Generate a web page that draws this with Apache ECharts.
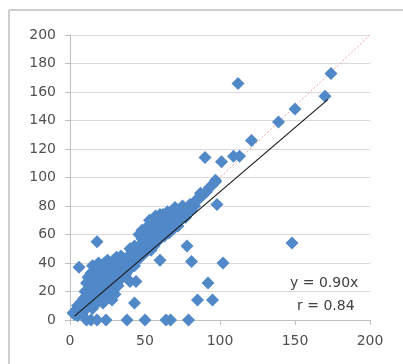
<!DOCTYPE html>
<html>
<head>
<meta charset="utf-8">
<script src="https://cdn.jsdelivr.net/npm/echarts@6/dist/echarts.min.js"></script>
<style>
  html, body { margin: 0; padding: 0; background: #fff; }
  #chart { width: 403px; height: 364px; }
</style>
</head>
<body>
<div id="chart"></div>
<script>
  // 散点数据 (x, y)
  var clusterPoints = [
    [2,5],[3,4],[4,7],[5,3],[5,10],[6,6],[7,12],[8,4],[8,9],[9,15],[10,7],[10,12],[10,20],
    [11,17],[11,26],[12,10],[12,30],[13,14],[13,22],[14,33],[14,18],[15,8],[15,27],[15,38],
    [16,13],[16,24],[17,32],[17,19],[18,36],[18,12],[18,28],[19,22],[19,40],[20,16],[20,33],
    [21,26],[21,38],[22,12],[22,20],[22,30],[23,35],[23,40],[24,15],[24,25],[25,31],[25,42],
    [26,19],[26,36],[27,28],[27,39],[28,14],[28,23],[28,33],[29,42],[30,18],[30,27],[30,37],
    [31,30],[31,44],[32,24],[32,35],[33,40],[33,28],[34,33],[34,45],[35,30],[35,38],[36,35],
    [36,42],[37,32],[38,38],[38,44],[39,35],[40,40],[40,50],[41,37],[41,46],[42,42],[43,38],
    [43,52],[44,45],[45,42],[45,50],[46,46],[46,60],[47,44],[47,53],[48,48],[48,57],[48,63],
    [49,52],[50,47],[50,55],[50,62],[51,50],[52,58],[52,66],[53,53],[53,70],[54,49],[54,62],
    [55,57],[55,70],[56,52],[56,65],[57,60],[57,73],[58,55],[58,68],[59,63],[60,57],[60,70],
    [60,74],[61,61],[62,66],[62,74],[63,59],[64,63],[64,70],[65,67],[65,76],[66,61],[66,73],
    [67,65],[68,70],[69,64],[70,68],[70,76],[70,79],[71,72],[72,66],[73,70],[74,76],[75,72],
    [75,80],[76,78],[77,72],[78,76],[79,79],[80,81],[81,77],[83,80],[84,84],[85,84],[87,89],
    [89,88],[91,90],[93,93],[95,95],[97,97]
  ];
  var outlierPoints = [
    [6,37],[18,55],[11,0],[14,0],[18,0],[24,0],[38,0],[50,0],[64,0],[67,0],[79,0],[43,12],
    [40,27],[44,27],[60,42],[78,52],[81,41],[85,14],[92,26],[95,14],[102,40],[148,54],[98,81],
    [90,114],[101,111],[109,115],[113,115],[97,98],[121,126],[112,166],[139,139],[150,148],
    [170,157],[174,173]
  ];
  // 趋势线 y = 0.90x
  var slope = 0.90;
  var trendX = [3, 172];
  var identityX = [0, 200];
  var xTicks = [0, 50, 100, 150, 200];
  var yTicks = [0, 20, 40, 60, 80, 100, 120, 140, 160, 180, 200];
  var eqText = 'y = 0.90x';
  var rText = 'r = 0.84';

  var myChart = echarts.init(document.getElementById('chart'));
  var labelFont = { color: '#505050', fontSize: 14, fontFamily: 'DejaVu Sans' };

  myChart.setOption({
    backgroundColor: '#fff',
    animation: false,
    grid: { left: 70, right: 33, top: 35, bottom: 44 },
    xAxis: {
      type: 'value',
      min: xTicks[0], max: xTicks[xTicks.length - 1], interval: 50,
      axisLine: { show: true, onZero: false, lineStyle: { color: '#bfbfbf' } },
      axisTick: { show: true, length: 5, lineStyle: { color: '#bfbfbf' } },
      axisLabel: Object.assign({ margin: 14 }, labelFont),
      splitLine: { show: false }
    },
    yAxis: {
      type: 'value',
      min: yTicks[0], max: yTicks[yTicks.length - 1], interval: 20,
      axisLine: { show: true, onZero: false, lineStyle: { color: '#bfbfbf' } },
      axisTick: { show: true, length: 5, lineStyle: { color: '#bfbfbf' } },
      axisLabel: Object.assign({ margin: 14 }, labelFont),
      splitLine: { show: true, lineStyle: { color: '#d9d9d9' } }
    },
    graphic: [
      { type: 'line', shape: { x1: 9, y1: 10, x2: 403, y2: 10 }, style: { stroke: '#bcbcbc', lineWidth: 1.5 } },
      { type: 'line', shape: { x1: 9, y1: 10, x2: 9, y2: 364 }, style: { stroke: '#bcbcbc', lineWidth: 1.5 } },
      { type: 'text', left: 290, top: 276, z: 10,
        style: { text: eqText, fill: '#404040', font: '14px "DejaVu Sans"' } },
      { type: 'text', left: 297, top: 299, z: 10,
        style: { text: rText, fill: '#404040', font: '14px "DejaVu Sans"' } }
    ],
    series: [
      {
        name: 'identity', type: 'line', z: 1,
        symbol: 'none', silent: true,
        lineStyle: { color: '#e8a0a0', width: 1, type: [2, 2] },
        data: identityX.map(function (x) { return [x, x]; })
      },
      {
        name: 'points', type: 'scatter', z: 2,
        symbol: 'diamond', symbolSize: 13,
        itemStyle: { color: '#5088c8', opacity: 1 },
        data: clusterPoints.concat(outlierPoints)
      },
      {
        name: 'trend', type: 'line', z: 3,
        symbol: 'none', silent: true,
        lineStyle: { color: '#1a1a1a', width: 1.2 },
        data: trendX.map(function (x) { return [x, slope * x]; })
      }
    ]
  });
</script>
</body>
</html>
